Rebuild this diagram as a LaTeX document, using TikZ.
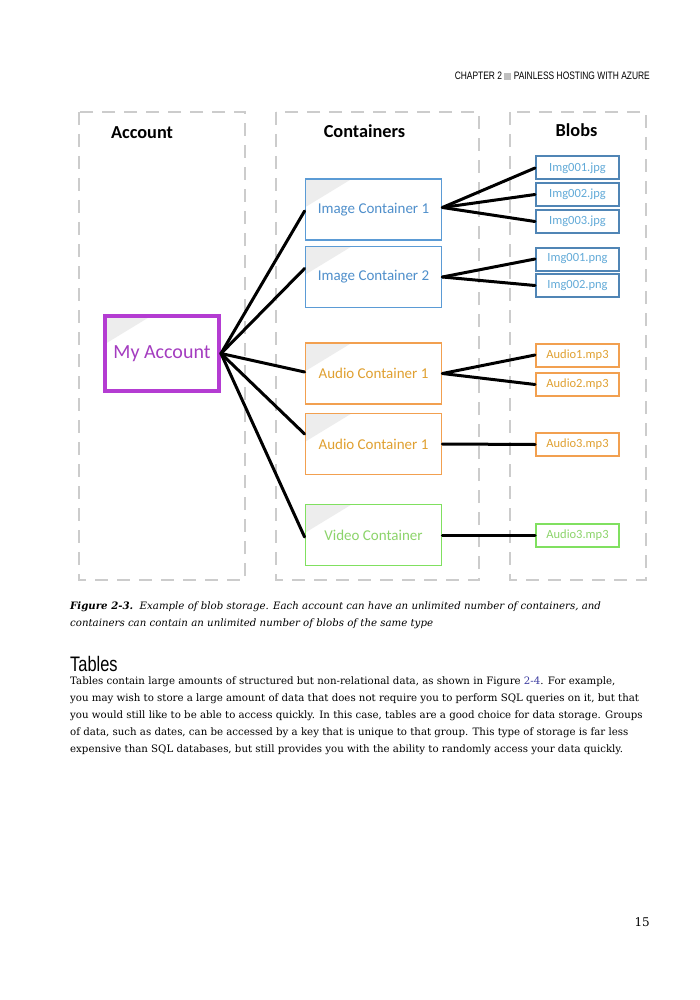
\documentclass[tikz,border=0pt]{standalone}
\usepackage{fontspec}
\setmainfont{DejaVu Serif}
\newfontfamily\calib{Carlito}
\newfontfamily\condsans[FakeStretch=0.78]{Liberation Sans}
\usetikzlibrary{calc}
\definecolor{blueC}{HTML}{5B9BD5}
\definecolor{blueT}{HTML}{4F8FCB}
\definecolor{blobB}{HTML}{5085B5}
\definecolor{blobT}{HTML}{62AAD8}
\definecolor{orangeC}{HTML}{F2A050}
\definecolor{orangeT}{HTML}{E0A030}
\definecolor{greenC}{HTML}{80E060}
\definecolor{greenT}{HTML}{8CD46A}
\definecolor{purpC}{HTML}{B43CD2}
\definecolor{purpT}{HTML}{A43CC0}
\definecolor{dashG}{HTML}{CCCCCC}
\definecolor{linkC}{HTML}{3C3CA0}
\tikzset{
  panel/.style={draw=dashG, line width=2pt, dash pattern=on 13pt off 9pt},
  head/.style={font=\calib\bfseries\fontsize{18.3}{21}\selectfont, text=black},
  corner/.style={path picture={\fill[black!7] (path picture bounding box.north west) -- ++(46pt,0pt) -- ($(path picture bounding box.north west)+(0pt,-28pt)$) -- cycle;}},
  cont/.style={draw=#1, line width=1.8pt, fill=white, corner, minimum width=136pt, minimum height=61pt, inner sep=0pt, font=\calib\fontsize{15}{18}\selectfont},
  blob/.style={draw=#1, line width=2pt, fill=white, minimum width=83pt, minimum height=23pt, inner sep=0pt, font=\calib\fontsize{12.5}{15}\selectfont},
  conn/.style={draw=black, line width=3pt, line cap=round},
  body/.style={anchor=base west, inner sep=0pt, font=\fontsize{10.2}{17}\selectfont},
  capt/.style={anchor=base west, inner sep=0pt, font=\itshape\fontsize{10.2}{17}\selectfont},
}
\begin{document}
\begin{tikzpicture}[x=1pt,y=-1pt]
\useasboundingbox[fill=white] (0,0) rectangle (700,1000);
% running head
\node[anchor=base east, inner sep=0pt, font=\condsans\fontsize{10.8}{13}\selectfont] (runhead) at (650,80) {CHAPTER 2 \textcolor{black!25}{\rule{7pt}{7pt}} PAINLESS HOSTING WITH AZURE};
% panels
\draw[panel] (79,112) rectangle (245,580);
\draw[panel] (276,112) rectangle (479,580);
\draw[panel] (510,112) rectangle (646,580);
\node[head] (hacc) at (142,133) {Account};
\node[head] (hcont) at (364.5,131) {Containers};
\node[head] (hblob) at (576.5,130) {Blobs};
% account
\node[draw=purpC, line width=4pt, fill=white, corner, minimum width=114pt, minimum height=75pt, inner sep=0pt, text=purpT, font=\calib\fontsize{20}{23}\selectfont] (acc) at (162,353.5) {My Account};
% containers
\node[cont=blueC, text=blueT] (ic1) at (373.5,209.5) {Image Container 1};
\node[cont=blueC, text=blueT] (ic2) at (373.5,277) {Image Container 2};
\node[cont=orangeC, text=orangeT] (ac1) at (373.5,373.5) {Audio Container 1};
\node[cont=orangeC, text=orangeT] (ac2) at (373.5,444) {Audio Container 1};
\node[cont=greenC, text=greenT] (vc) at (373.5,535) {Video Container};
% blobs
\node[blob=blobB, text=blobT] (b1) at (577.5,168) {Img001.jpg};
\node[blob=blobB, text=blobT] (b2) at (577.5,194.5) {Img002.jpg};
\node[blob=blobB, text=blobT] (b3) at (577.5,221.5) {Img003.jpg};
\node[blob=blobB, text=blobT] (b4) at (577.5,259) {Img001.png};
\node[blob=blobB, text=blobT] (b5) at (577.5,285.5) {Img002.png};
\node[blob=orangeC, text=orangeT] (b6) at (577.5,355) {Audio1.mp3};
\node[blob=orangeC, text=orangeT] (b7) at (577.5,384.5) {Audio2.mp3};
\node[blob=orangeC, text=orangeT] (b8) at (577.5,444.5) {Audio3.mp3};
\node[blob=greenC, text=greenT] (b9) at (577.5,535) {Audio3.mp3};
% connectors account -> containers
\draw[conn] (acc.east) -- ([yshift=-1.5pt]ic1.west);
\draw[conn] (acc.east) -- ([yshift=8.5pt]ic2.west);
\draw[conn] (acc.east) -- ([yshift=1.5pt]ac1.west);
\draw[conn] (acc.east) -- ([yshift=10pt]ac2.west);
\draw[conn] (acc.east) -- ([yshift=-2pt]vc.west);
% connectors containers -> blobs
\draw[conn] ([yshift=2pt]ic1.east) -- (b1.west);
\draw[conn] ([yshift=2pt]ic1.east) -- (b2.west);
\draw[conn] ([yshift=2pt]ic1.east) -- (b3.west);
\draw[conn] (ic2.east) -- (b4.west);
\draw[conn] (ic2.east) -- (b5.west);
\draw[conn] (ac1.east) -- (b6.west);
\draw[conn] (ac1.east) -- (b7.west);
\draw[conn] (ac2.east) -- (b8.west);
\draw[conn] (vc.east) -- (b9.west);
% caption
\node[capt] (cap1) at (70,609) {\textbf{Figure 2-3.}\ \ Example of blob storage. Each account can have an unlimited number of containers, and};
\node[capt] (cap2) at (70,626) {containers can contain an unlimited number of blobs of the same type};
% section
\node[anchor=base west, inner sep=0pt, font=\condsans\fontsize{21}{24}\selectfont] (sec) at (70,671) {Tables};
\node[body] (l1) at (70,684) {Tables contain large amounts of structured but non-relational data, as shown in Figure \textcolor{linkC}{2-4}. For example,};
\node[body] (l2) at (70,701) {you may wish to store a large amount of data that does not require you to perform SQL queries on it, but that};
\node[body] (l3) at (70,718) {you would still like to be able to access quickly. In this case, tables are a good choice for data storage. Groups};
\node[body] (l4) at (70,735) {of data, such as dates, can be accessed by a key that is unique to that group. This type of storage is far less};
\node[body] (l5) at (70,752) {expensive than SQL databases, but still provides you with the ability to randomly access your data quickly.};
\node[anchor=base east, inner sep=0pt, font=\fontsize{12}{14}\selectfont] (pg) at (650,926) {15};
\end{tikzpicture}
\end{document}
